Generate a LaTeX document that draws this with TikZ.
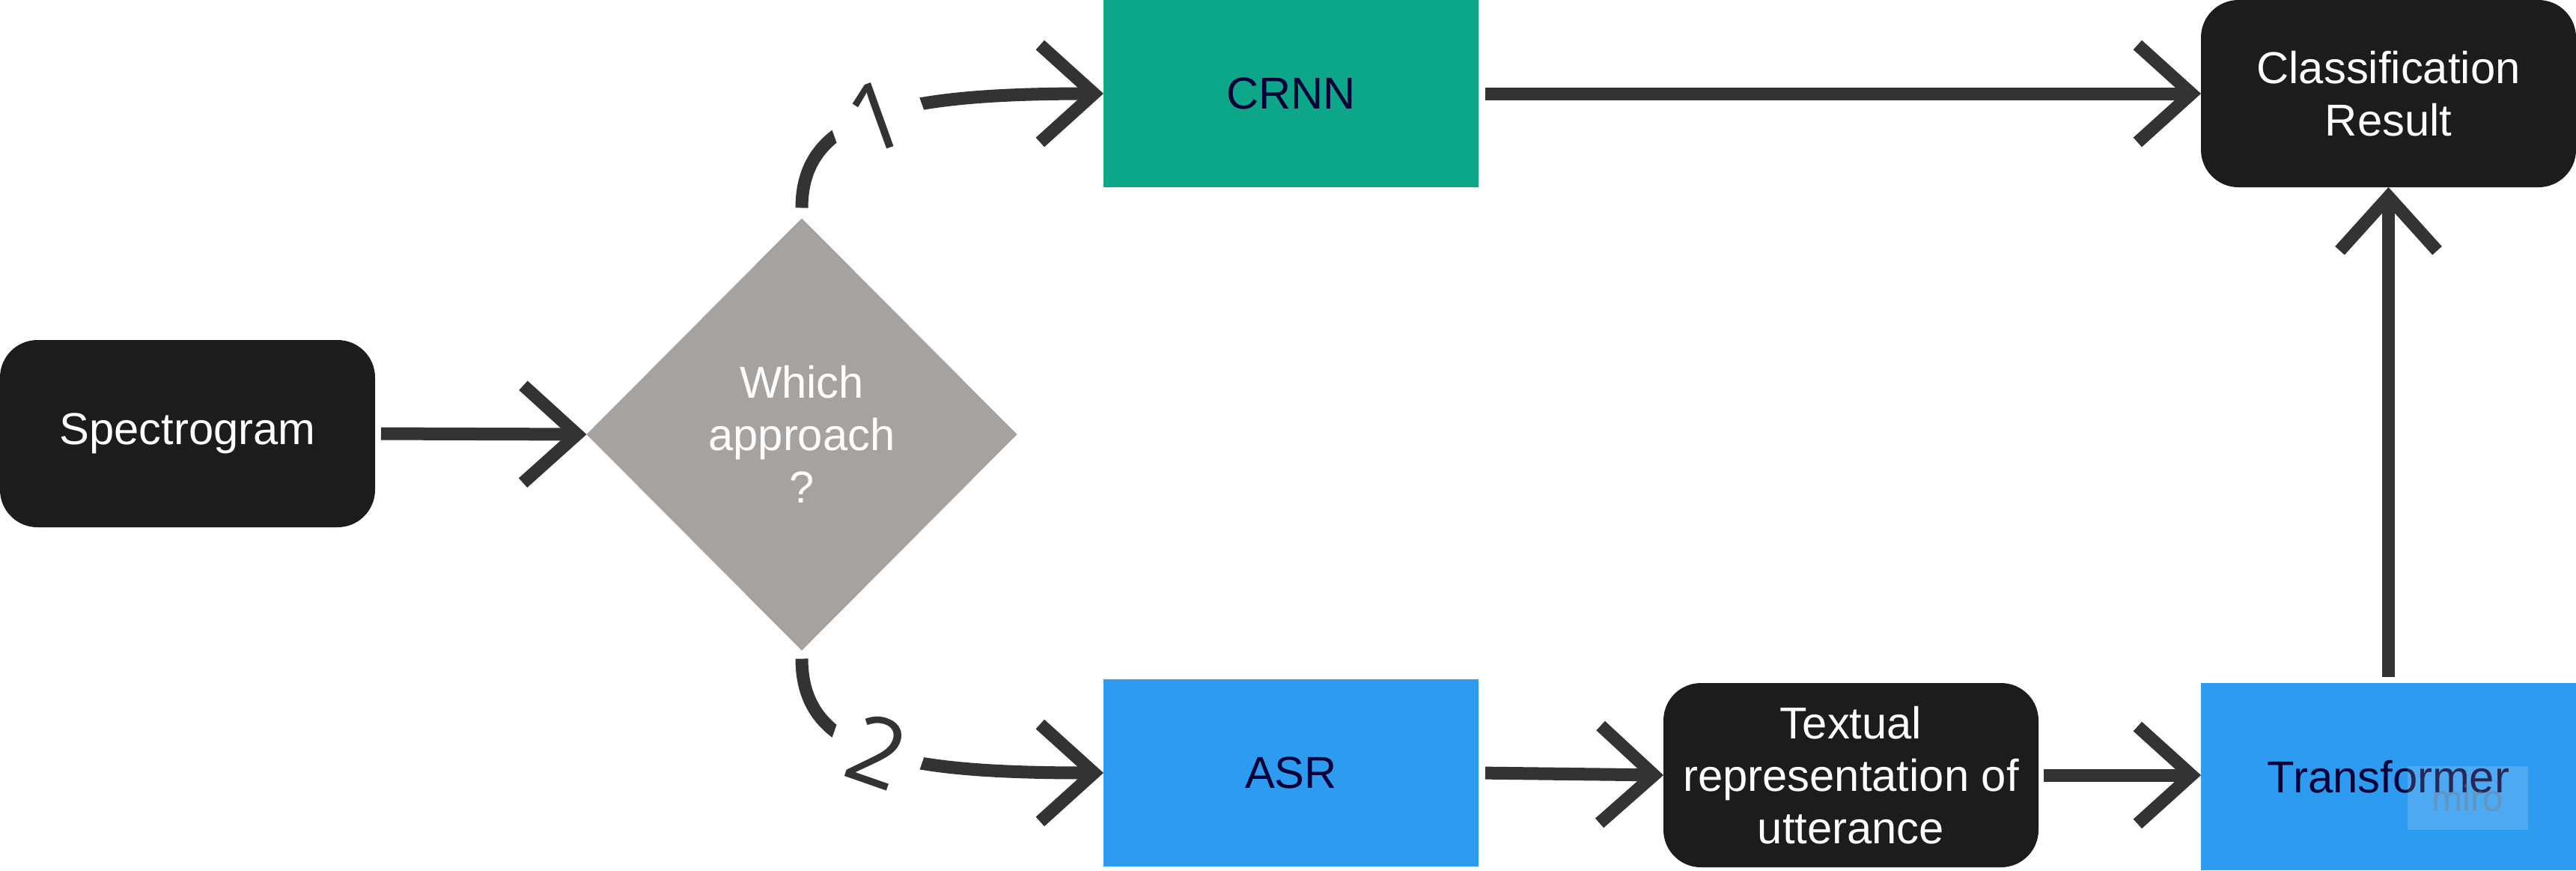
\documentclass[tikz,border=0pt]{standalone}
\usepackage{fontspec}
\setmainfont{Liberation Sans}
\newfontfamily\labfont{Open Sans}
\usetikzlibrary{arrows.meta,shapes.geometric}
\definecolor{boxblack}{HTML}{1C1C1C}
\definecolor{arrowc}{HTML}{333333}
\definecolor{crnngreen}{HTML}{0CA789}
\definecolor{asrblue}{HTML}{2D9BF0}
\definecolor{diagray}{HTML}{A6A2A0}
\definecolor{navy}{HTML}{050038}
\tikzset{
  base/.style={inner sep=0pt, outer sep=0pt, align=center, draw=none,
    font=\fontsize{17}{20}\selectfont},
  blackbox/.style={base, fill=boxblack, text=white, rounded corners=0.5cm,
    minimum width=5.01cm, minimum height=2.5cm},
  colbox/.style={base, text=navy, minimum width=5.01cm, minimum height=2.5cm},
  decision/.style={base, shape=diamond, fill=diagray, text=white,
    minimum width=5.75cm, minimum height=5.77cm},
  arr/.style={draw=arrowc, line width=0.17cm,
    -{Straight Barb[sharp, length=0.72cm, width=1.3cm]}},
  lbl/.style={fill=white, text=arrowc, font=\labfont\fontsize{36}{36}\selectfont,
    inner xsep=0.26cm, inner ysep=0pt},
}
\begin{document}
\begin{tikzpicture}
\useasboundingbox (0,0) rectangle (34.41,-11.62);

\node[blackbox] (spec) at (2.505,-5.79) {Spectrogram};
\node[decision] (dia) at (10.71,-5.80) {Which\\approach\\?};
\node[colbox, fill=crnngreen] (crnn) at (17.245,-1.25) {CRNN};
\node[colbox, fill=asrblue] (asr) at (17.245,-10.32) {ASR};
\node[blackbox, minimum height=2.46cm] (txt) at (24.725,-10.35) {Textual\\representation of\\utterance};
\node[colbox, fill=asrblue] (trans) at (31.905,-10.37) {Transformer};
\node[blackbox] (cls) at (31.905,-1.25) {Classification\\Result};

% watermark
\node[fill=white, fill opacity=0.15, text=gray, text opacity=0.45,
  minimum width=1.61cm, minimum height=0.85cm, inner sep=0pt,
  font=\fontsize{14}{14}\selectfont] (wm) at (32.96,-10.655) {miro};

\draw[arr, shorten <=0.08cm] (spec.east) -- (dia.west);
\draw[arr, shorten <=0.14cm] (dia.north) .. controls +(0,1.4) and +(-2.7,0) .. node[lbl, sloped] (l1) {1} (crnn.west);
\draw[arr, shorten <=0.11cm] (dia.south) .. controls +(0,-1.4) and +(-2.7,0) .. node[lbl, sloped] (l2) {2} (asr.west);
\draw[arr, shorten <=0.09cm] (crnn.east) -- (cls.west);
\draw[arr, shorten <=0.09cm] (asr.east) -- (txt.west);
\draw[arr, shorten <=0.07cm] (txt.east) -- (txt.east -| trans.west);
\draw[arr, shorten <=0.08cm] (trans.north) -- (cls.south);
\end{tikzpicture}
\end{document}
